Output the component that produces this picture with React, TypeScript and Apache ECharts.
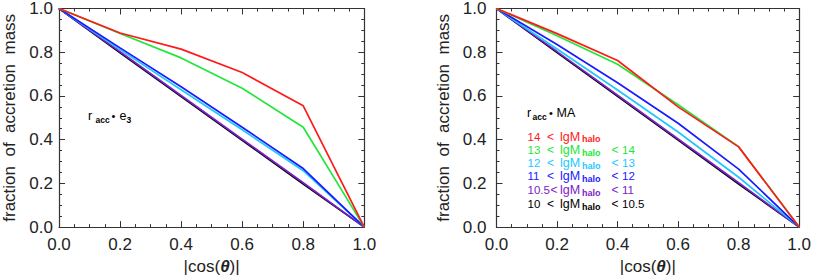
import React, { useEffect, useRef } from 'react';
import * as echarts from 'echarts';

// ---- data ----
const cosTheta = [0, 0.2, 0.4, 0.6, 0.8, 1.0];

// left panel: r_acc . e3
const e3Black = [1, 0.797, 0.597, 0.397, 0.197, 0];
const e3Purple = [1, 0.802, 0.602, 0.402, 0.203, 0];
const e3Cyan = [1, 0.812, 0.628, 0.445, 0.258, 0];
const e3Blue = [1, 0.82, 0.642, 0.457, 0.268, 0];
const e3Green = [1, 0.886, 0.774, 0.635, 0.457, 0];
const e3Red = [1, 0.888, 0.814, 0.707, 0.555, 0];

// right panel: r_acc . MA
const maBlack = [1, 0.798, 0.598, 0.398, 0.197, 0];
const maPurple = [1, 0.803, 0.603, 0.403, 0.203, 0];
const maCyan = [1, 0.815, 0.627, 0.435, 0.228, 0];
const maBlue = [1, 0.835, 0.66, 0.475, 0.265, 0];
const maGreen = [1, 0.875, 0.745, 0.56, 0.368, 0];
const maRed = [1, 0.885, 0.762, 0.55, 0.367, 0];

// legend (halo mass bins), top to bottom
const binLow = ['14', '13', '12', '11', '10.5', '10'];
const binHigh = ['', '14', '13', '12', '11', '10.5'];
const binColors = ['#ff1a1a', '#22e63a', '#1ec8ff', '#1a1aff', '#7a22c8', '#000000'];

const FONT = '"Liberation Sans", Arial, Helvetica, sans-serif';
const AXIS = '#333333';

function xAxisDef(grid: number, pos: 'bottom' | 'top') {
  const bottom = pos === 'bottom';
  return {
    type: 'value',
    gridIndex: grid,
    position: pos,
    min: 0,
    max: 1,
    interval: 0.2,
    axisLine: { show: true, onZero: false, lineStyle: { color: AXIS, width: 1.2 } },
    axisTick: { show: true, inside: true, length: 6, lineStyle: { color: AXIS, width: 1 } },
    minorTick: { show: true, splitNumber: 4, length: 3, lineStyle: { color: AXIS, width: 1 } },
    splitLine: { show: false },
    minorSplitLine: { show: false },
    axisLabel: {
      show: bottom,
      fontSize: 17,
      color: '#222',
      margin: 9,
      fontFamily: FONT,
      showMinLabel: true,
      showMaxLabel: true,
      formatter: (v: number) => v.toFixed(1),
    },
    name: bottom ? '{a||cos(}{b|θ}{a|)|}' : '',
    nameLocation: 'middle',
    nameGap: 29,
    nameTextStyle: {
      rich: {
        a: { fontSize: 17, color: '#222', fontFamily: FONT },
        b: { fontSize: 17, color: '#222', fontFamily: FONT, fontWeight: 'bold', fontStyle: 'italic' },
      },
    },
  };
}

function yAxisDef(grid: number, pos: 'left' | 'right') {
  const left = pos === 'left';
  return {
    type: 'value',
    gridIndex: grid,
    position: pos,
    min: 0,
    max: 1,
    interval: 0.2,
    axisLine: { show: true, onZero: false, lineStyle: { color: AXIS, width: 1.2 } },
    axisTick: { show: true, inside: true, length: 6, lineStyle: { color: AXIS, width: 1 } },
    minorTick: { show: true, splitNumber: 4, length: 3, lineStyle: { color: AXIS, width: 1 } },
    splitLine: { show: false },
    minorSplitLine: { show: false },
    axisLabel: {
      show: left,
      fontSize: 17,
      color: '#222',
      margin: grid === 0 ? 6 : 10,
      fontFamily: FONT,
      showMinLabel: true,
      showMaxLabel: true,
      formatter: (v: number) => v.toFixed(1),
    },
    name: left ? 'fraction  of  accretion  mass' : '',
    nameLocation: 'middle',
    nameGap: grid === 0 ? 41 : 45,
    nameTextStyle: { fontSize: 17, color: '#222', fontFamily: FONT },
  };
}

function lineSeries(axis: number, ys: number[], color: string, z: number) {
  return {
    type: 'line',
    xAxisIndex: axis,
    yAxisIndex: axis,
    data: cosTheta.map((x, i) => [x, ys[i]]),
    showSymbol: false,
    symbol: 'none',
    lineStyle: { color, width: 1.7 },
    z,
    silent: true,
  };
}

function txt(x: number, y: number, text: string, size: number, color: string, bold = false) {
  return {
    type: 'text',
    x,
    y,
    silent: true,
    style: {
      text,
      fill: color,
      fontSize: size,
      fontFamily: FONT,
      fontWeight: bold ? 'bold' : 'normal',
      verticalAlign: 'middle',
      align: 'left',
    },
  };
}

export default function App() {
  const ref = useRef<HTMLDivElement>(null);

  useEffect(() => {
    if (!ref.current) return;
    const chart = echarts.init(ref.current, null, { renderer: 'svg' });

    const graphics: any[] = [];
    // left annotation r_acc . e3
    graphics.push(txt(88, 116, 'r', 12.5, '#000'));
    graphics.push(txt(95.5, 119.5, 'acc', 8.5, '#000', true));
    graphics.push(txt(111.5, 116, '•', 11, '#000'));
    graphics.push(txt(119.5, 116, 'e', 12.5, '#000'));
    graphics.push(txt(126.5, 119.5, '3', 8.5, '#000', true));
    // right annotation r_acc . MA
    graphics.push(txt(527, 113, 'r', 12.5, '#000'));
    graphics.push(txt(532.5, 116.5, 'acc', 8.5, '#000', true));
    graphics.push(txt(549, 113, '•', 11, '#000'));
    graphics.push(txt(556.5, 113, 'MA', 12.5, '#000'));

    const rowY = [136.5, 150, 163, 176.3, 190, 204];
    binLow.forEach((lo, i) => {
      const c = binColors[i];
      const y = rowY[i];
      graphics.push(txt(527.5, y, lo, 11.5, c));
      graphics.push(txt(lo.length > 2 ? 550.5 : 547, y, '<', 12, c));
      graphics.push(txt(560, y, 'lgM', 12.5, c));
      graphics.push(txt(582, y + 2.5, 'halo', 9, c, true));
      if (binHigh[i]) {
        graphics.push(txt(611.5, y, '<', 12, c));
        graphics.push(txt(622, y, binHigh[i], 11.5, c));
      }
    });

    const option: any = {
      animation: false,
      backgroundColor: '#ffffff',
      grid: [
        { left: 59, top: 1.7, width: 305.3, height: 230, containLabel: false },
        { left: 496.5, top: 1.7, width: 305.3, height: 230, containLabel: false },
      ],
      xAxis: [xAxisDef(0, 'bottom'), xAxisDef(0, 'top'), xAxisDef(1, 'bottom'), xAxisDef(1, 'top')],
      yAxis: [yAxisDef(0, 'left'), yAxisDef(0, 'right'), yAxisDef(1, 'left'), yAxisDef(1, 'right')],
      series: [
        lineSeries(0, e3Black, binColors[5], 2),
        lineSeries(0, e3Purple, binColors[4], 3),
        lineSeries(0, e3Cyan, binColors[2], 4),
        lineSeries(0, e3Blue, binColors[3], 5),
        lineSeries(0, e3Green, binColors[1], 6),
        lineSeries(0, e3Red, binColors[0], 7),
        lineSeries(2, maBlack, binColors[5], 2),
        lineSeries(2, maPurple, binColors[4], 3),
        lineSeries(2, maCyan, binColors[2], 4),
        lineSeries(2, maBlue, binColors[3], 5),
        lineSeries(2, maGreen, binColors[1], 6),
        lineSeries(2, maRed, binColors[0], 7),
      ],
      graphic: graphics,
    };
    chart.setOption(option);
    return () => chart.dispose();
  }, []);

  return (
    <div
      ref={ref}
      style={{ position: 'fixed', left: 0, top: 0, width: 814, height: 280, background: '#fff' }}
    />
  );
}
